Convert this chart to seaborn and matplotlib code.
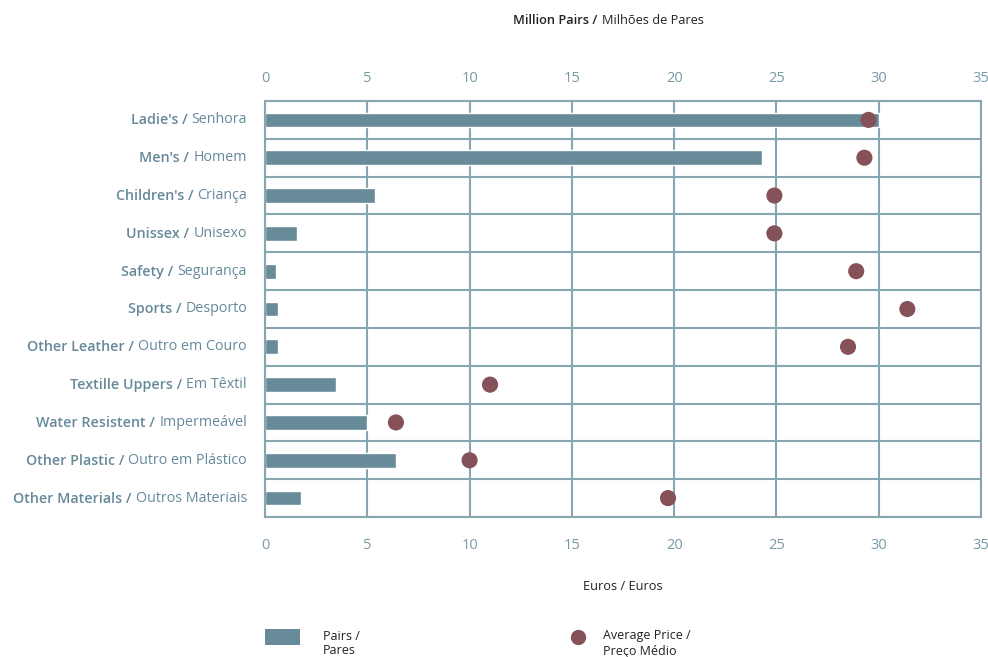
import numpy as np
import pandas as pd
import matplotlib
matplotlib.use("Agg")
import matplotlib.pyplot as plt
import matplotlib.patches as mpatches
from matplotlib.lines import Line2D
import seaborn as sns

# Footwear production by category: volume (million pairs) and average price (euros)
cat_en = ["Ladie's", "Men's", "Children's", "Unissex", "Safety", "Sports",
          "Other Leather", "Textille Uppers", "Water Resistent", "Other Plastic",
          "Other Materials"]
cat_pt = ["Senhora", "Homem", "Criança", "Unisexo", "Segurança", "Desporto",
          "Outro em Couro", "Em Têxtil", "Impermeável", "Outro em Plástico",
          "Outros Materiais"]
pairs = [30.0, 24.3, 5.4, 1.55, 0.55, 0.65, 0.65, 3.45, 5.0, 6.4, 1.75]
avg_price = [29.5, 29.3, 24.9, 24.9, 28.9, 31.4, 28.5, 11.0, 6.4, 10.0, 19.7]
x_ticks = [0, 5, 10, 15, 20, 25, 30, 35]

BAR = "#678b98"
DOT = "#86525a"
GRID = "#88a6af"
TICK = "#7899a6"
LABEL = "#66899a"
DARK = "#222222"

sns.set_theme(style="white")
plt.rcParams["font.family"] = ["Open Sans", "DejaVu Sans"]

df = pd.DataFrame({"cat": cat_en, "pairs": pairs, "price": avg_price,
                   "pos": np.arange(len(cat_en))})

fig = plt.figure(figsize=(9.88, 6.57), dpi=100)
ax = fig.add_axes([265 / 988, 1 - 517 / 657, (981 - 265) / 988, (517 - 101) / 657])

sns.barplot(data=df, y="cat", x="pairs", color=BAR, width=0.39, orient="h",
            saturation=1, ax=ax, zorder=2)
ax.set_xlim(0, 35)
ax.set_ylim(len(cat_en) - 0.5, -0.5)
ax.set_yticks(np.arange(len(cat_en)))
ax.set_yticklabels([])
ax.set_yticks(np.arange(len(cat_en) + 1) - 0.5, minor=True)
ax.set_xlabel("")
ax.set_ylabel("")
ax.set_axisbelow(True)
ax.grid(axis="x", which="major", color=GRID, lw=1.5)
ax.grid(axis="y", which="minor", color=GRID, lw=1.5)
for s in ax.spines.values():
    s.set_color(GRID)
    s.set_linewidth(1.5)

# Price on a second x axis sharing the category rows
ax2 = ax.twiny()
sns.scatterplot(data=df, x="price", y="pos", color=DOT, s=135, edgecolor="none",
                ax=ax2, zorder=3, legend=False)
ax2.set_xlim(0, 35)
ax2.set_ylim(len(cat_en) - 0.5, -0.5)
ax2.set_xlabel("")
ax2.set_ylabel("")
for s in ax2.spines.values():
    s.set_visible(False)

# Pairs scale on top, euros scale at the bottom
ax.set_xticks(x_ticks)
ax.xaxis.tick_top()
ax.tick_params(axis="both", which="both", length=0)
ax.tick_params(axis="x", labelsize=10.5, labelcolor=TICK, pad=11,
               labeltop=True, labelbottom=False)
ax2.set_xticks(x_ticks)
ax2.xaxis.tick_bottom()
ax2.tick_params(axis="x", length=0, labelsize=10.5, labelcolor=TICK, pad=15,
                labelbottom=True, labeltop=False)

# Bilingual category labels: bold English, regular Portuguese
for i, (en, pt) in enumerate(zip(cat_en, cat_pt)):
    reg = ax.annotate(pt, xy=(0, i), xycoords=("axes fraction", "data"),
                      xytext=(-13, 0), textcoords="offset points",
                      ha="right", va="center", fontsize=10.3, color=LABEL)
    ax.annotate(en + " /", xy=(0, 0), xycoords=reg,
                xytext=(-3, 0), textcoords="offset points",
                ha="right", va="bottom", fontsize=10.3, color=LABEL,
                fontweight="semibold")

# Axis titles
t1 = fig.text(513 / 988, 1 - 20 / 657, "Million Pairs /", ha="left", va="center",
              fontsize=9.2, color=DARK, fontweight="semibold")
ax.annotate("Milhões de Pares", xy=(1, 0), xycoords=t1, xytext=(3, 0),
            textcoords="offset points", ha="left", va="bottom",
            fontsize=9.2, color=DARK, annotation_clip=False)
fig.text(623 / 988, 1 - 587 / 657, "Euros / Euros", ha="center", va="center",
         fontsize=9.2, color=DARK)

# Legend
fig.add_artist(mpatches.Rectangle((265 / 988, 1 - 645 / 657), 35 / 988, 16 / 657,
                                  transform=fig.transFigure, color=BAR, lw=0))
fig.text(323 / 988, 1 - 636 / 657, "Pairs /", ha="left", va="center",
         fontsize=9, color=DARK)
fig.text(323 / 988, 1 - 651 / 657, "Pares", ha="left", va="center",
         fontsize=9, color=DARK)
fig.add_artist(Line2D([578 / 988], [1 - 637 / 657], marker="o", markersize=11,
                      color=DOT, markeredgewidth=0, transform=fig.transFigure))
fig.text(603 / 988, 1 - 636 / 657, "Average Price /", ha="left", va="center",
         fontsize=9, color=DARK)
fig.text(603 / 988, 1 - 651 / 657, "Preço Médio", ha="left", va="center",
         fontsize=9, color=DARK)

fig.savefig("out.png", dpi=100, facecolor="white")
